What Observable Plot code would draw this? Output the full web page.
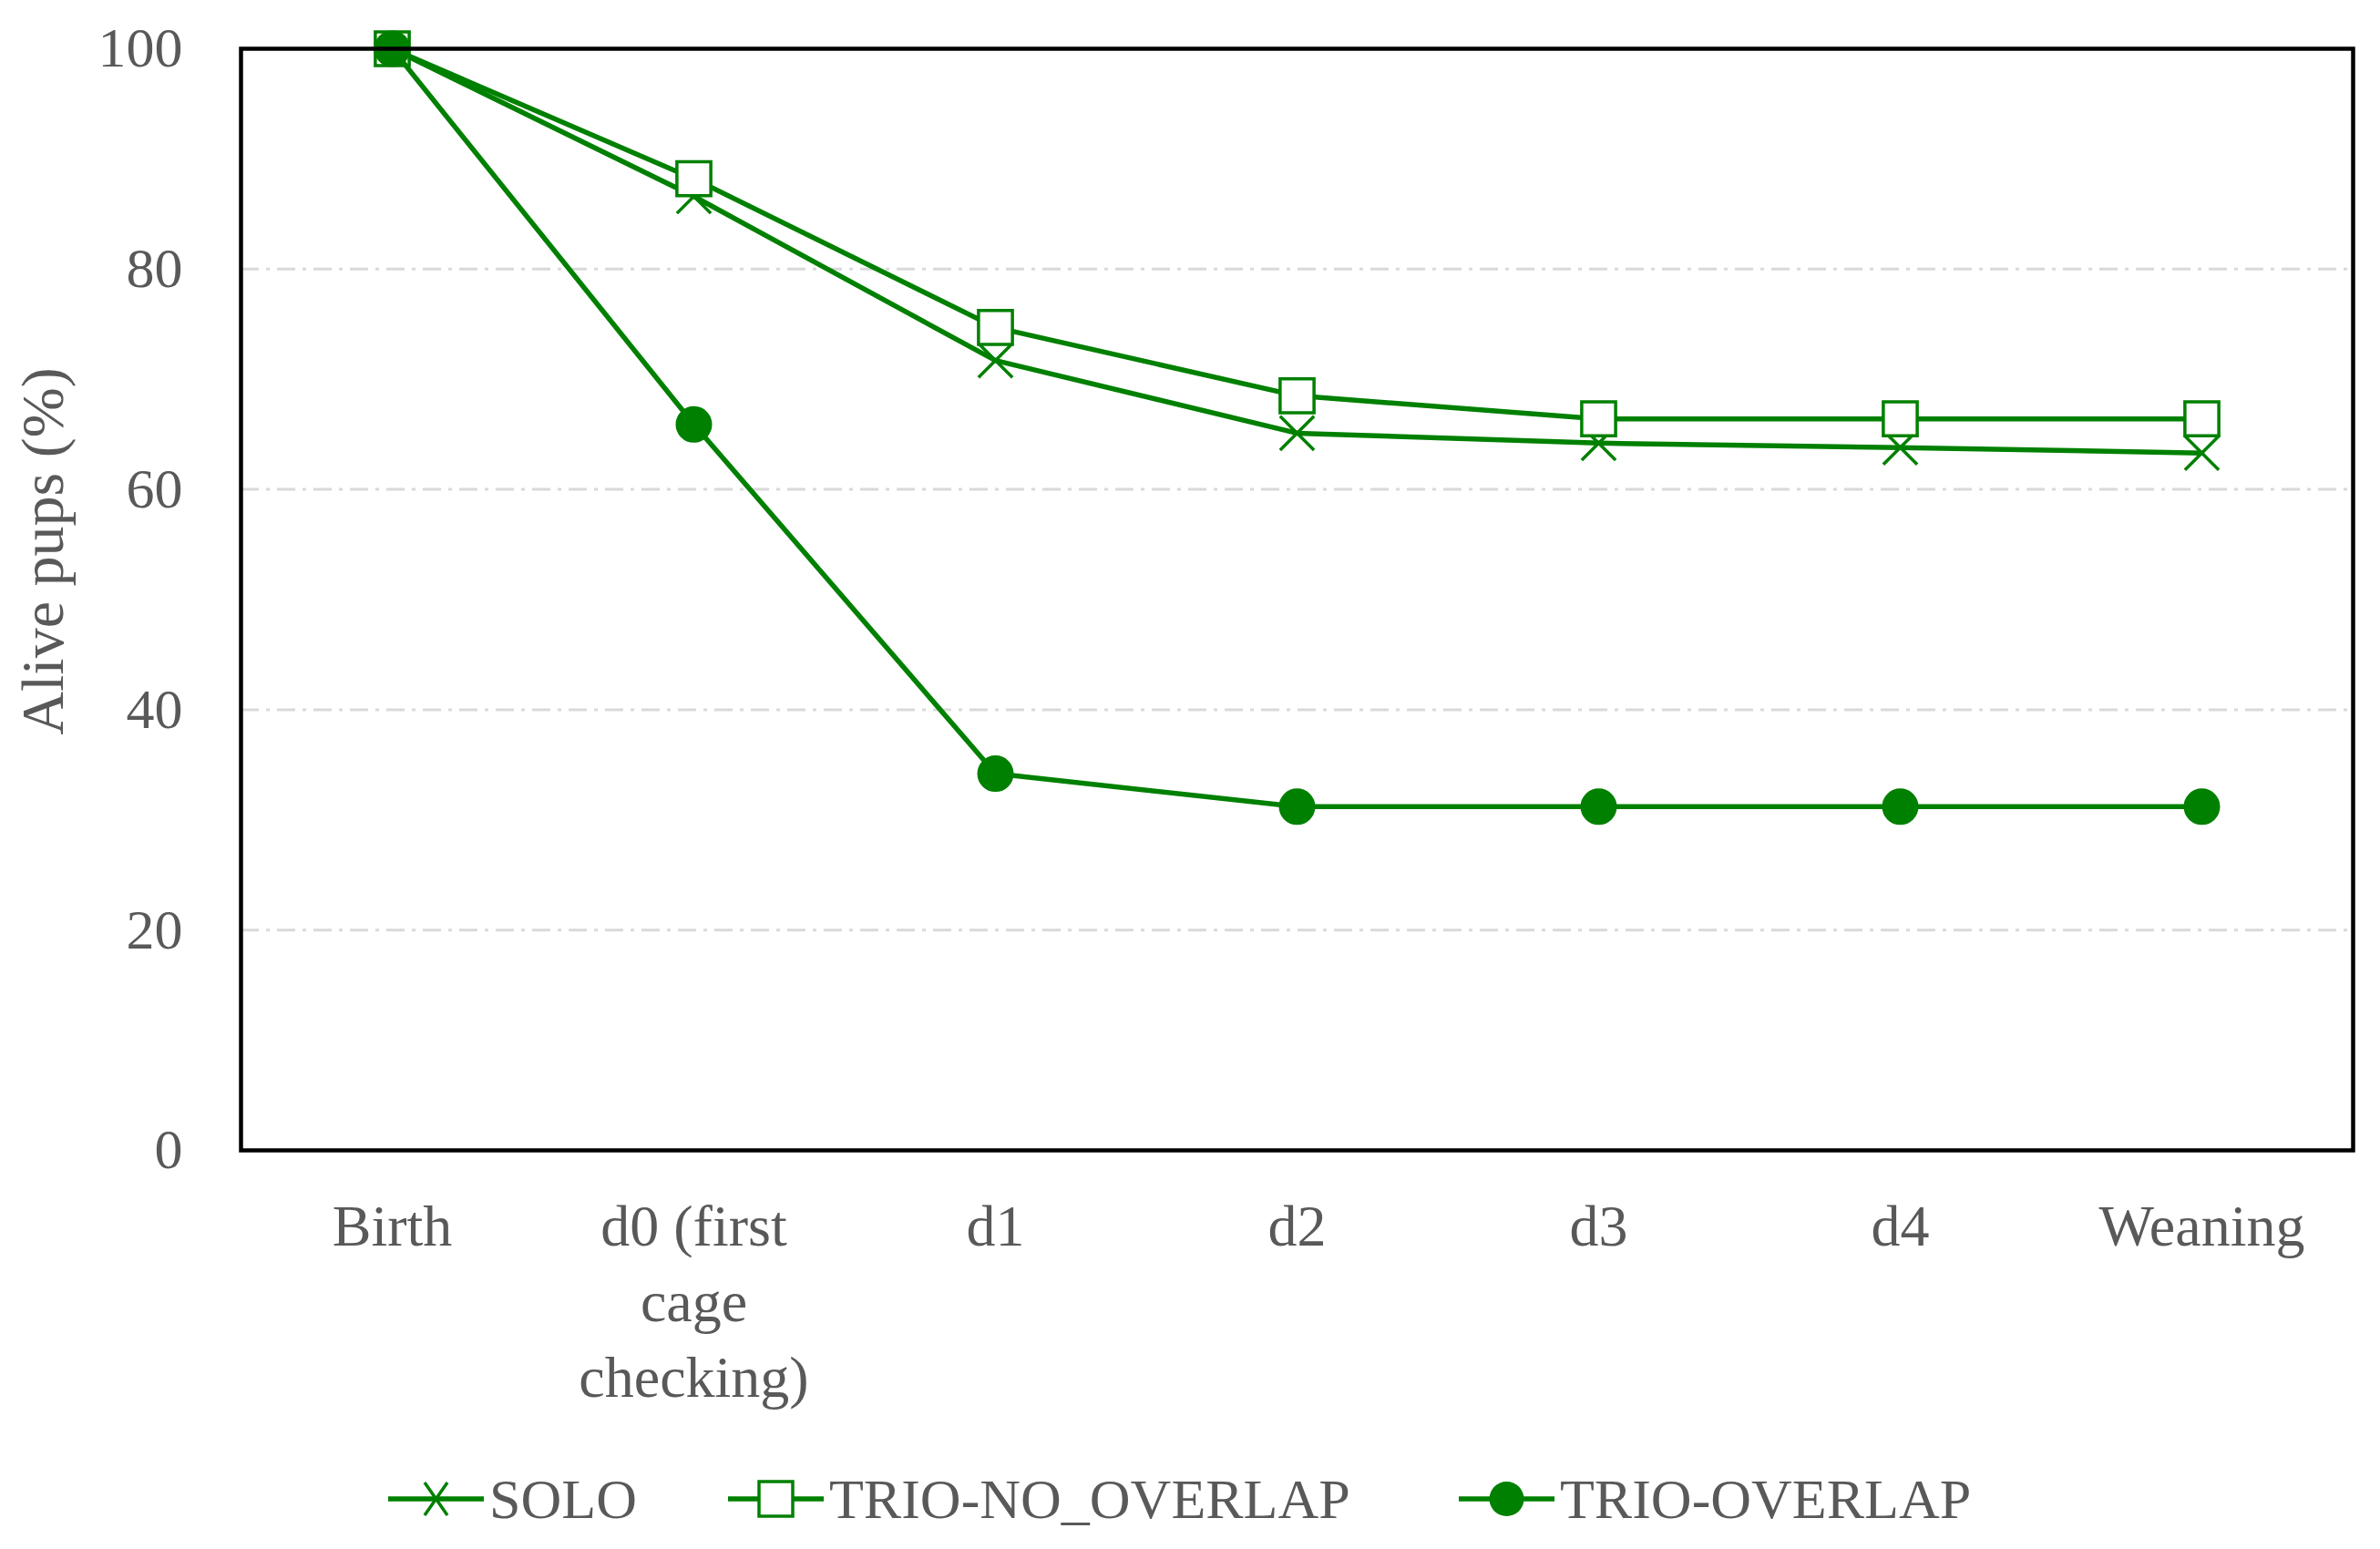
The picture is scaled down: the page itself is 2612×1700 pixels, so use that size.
<!DOCTYPE html>
<html><head><meta charset="utf-8">
<script src="https://cdn.jsdelivr.net/npm/d3@7"></script>
<script src="https://cdn.jsdelivr.net/npm/@observablehq/plot@0.6"></script>
<style>
body{margin:0;background:#fff;}
#chart{width:2612px;}
#legend{position:relative;width:2612px;height:120px;font-family:"Liberation Serif",serif;font-size:62px;color:#595959;}
.item{position:absolute;top:5px;height:120px;display:flex;align-items:center;white-space:nowrap;}
.item svg{margin-right:4px;}
</style></head><body>
<div id="chart"></div>
<div id="legend"></div>
<script>
// ---- data ----
const categories = ["Birth", "d0 (first cage checking)", "d1", "d2", "d3", "d4", "Weaning"];
const tickLabels = ["Birth", "d0 (first\ncage\nchecking)", "d1", "d2", "d3", "d4", "Weaning"];
const seriesNames = ["SOLO", "TRIO-NO_OVERLAP", "TRIO-OVERLAP"];
const solo = [100, 86.6, 71.7, 65.1, 64.2, 63.8, 63.3];
const trioNoOverlap = [100, 88.2, 74.7, 68.5, 66.4, 66.4, 66.4];
const trioOverlap = [100, 65.9, 34.2, 31.2, 31.2, 31.2, 31.2];
const yTicks = [0, 20, 40, 60, 80, 100];
const gridTicks = [20, 40, 60, 80];
const yTitle = "Alive pups (%)";

const GREEN = "#008000";
const GRAY = "#595959";
const W = 2612, H = 1580;

const rows = (vals, name) => vals.map((v, i) => ({cat: categories[i], series: name, value: v}));
const dSolo = rows(solo, seriesNames[0]);
const dNo = rows(trioNoOverlap, seriesNames[1]);
const dOv = rows(trioOverlap, seriesNames[2]);

const lineOpts = {x: "cat", y: "value", stroke: GREEN, strokeWidth: 5.5};

const chart = Plot.plot({
  width: W,
  height: H,
  marginLeft: 264,
  marginRight: 30,
  marginTop: 53,
  marginBottom: H - 1262,
  style: {fontFamily: "Liberation Serif, serif", fontSize: "62px", background: "#fff"},
  x: {type: "point", domain: categories, padding: 0.5},
  y: {domain: [0, 100]},
  marks: [
    Plot.ruleY(gridTicks, {stroke: "#d9d9d9", strokeWidth: 3, strokeDasharray: "20,8,4,8"}),
    Plot.axisY({ticks: yTicks, tickSize: 0, tickPadding: 64, fontSize: 62, fill: GRAY, label: null}),
    Plot.axisX({tickSize: 0, tickPadding: 45, fontSize: 64, fill: GRAY, label: null, lineHeight: 1.3,
      tickFormat: d => tickLabels[categories.indexOf(d)]}),
    Plot.text([yTitle], {frameAnchor: "left", text: d => d, rotate: -90, textAnchor: "middle", lineAnchor: "middle",
      dx: -217, dy: -53, fontSize: 66, fill: GRAY}),
    Plot.line(dSolo, lineOpts),
    Plot.dot(dSolo, {x: "cat", y: "value", symbol: "times", r: 17, stroke: GREEN, strokeWidth: 3.5}),
    Plot.line(dNo, lineOpts),
    Plot.dot(dNo, {x: "cat", y: "value", symbol: "square", r: 21, stroke: GREEN, fill: "#fff", strokeWidth: 3.5}),
    Plot.line(dOv, lineOpts),
    Plot.dot(dOv, {x: "cat", y: "value", symbol: "circle", r: 19, stroke: GREEN, fill: GREEN, strokeWidth: 2}),
    Plot.frame({stroke: "#000", strokeWidth: 4.5})
  ]
});
document.getElementById("chart").appendChild(chart);

// ---- legend ----
const legendLeft = [426, 799, 1601];
const symbolSvg = [
  `<line x1="0" y1="30" x2="105" y2="30" stroke="${GREEN}" stroke-width="5.5"/><path d="M40,12L65,48M40,48L65,12" stroke="${GREEN}" stroke-width="3.5"/>`,
  `<line x1="0" y1="30" x2="105" y2="30" stroke="${GREEN}" stroke-width="5.5"/><rect x="34" y="11" width="37" height="38" fill="#fff" stroke="${GREEN}" stroke-width="3.5"/>`,
  `<line x1="0" y1="30" x2="105" y2="30" stroke="${GREEN}" stroke-width="5.5"/><circle cx="52.5" cy="30" r="19" fill="${GREEN}"/>`
];
const legend = document.getElementById("legend");
seriesNames.forEach((name, i) => {
  const item = document.createElement("div");
  item.className = "item";
  item.style.left = legendLeft[i] + "px";
  item.innerHTML = `<svg width="107" height="60" viewBox="0 0 107 60">${symbolSvg[i]}</svg><span>${name}</span>`;
  legend.appendChild(item);
});
</script>
</body></html>
